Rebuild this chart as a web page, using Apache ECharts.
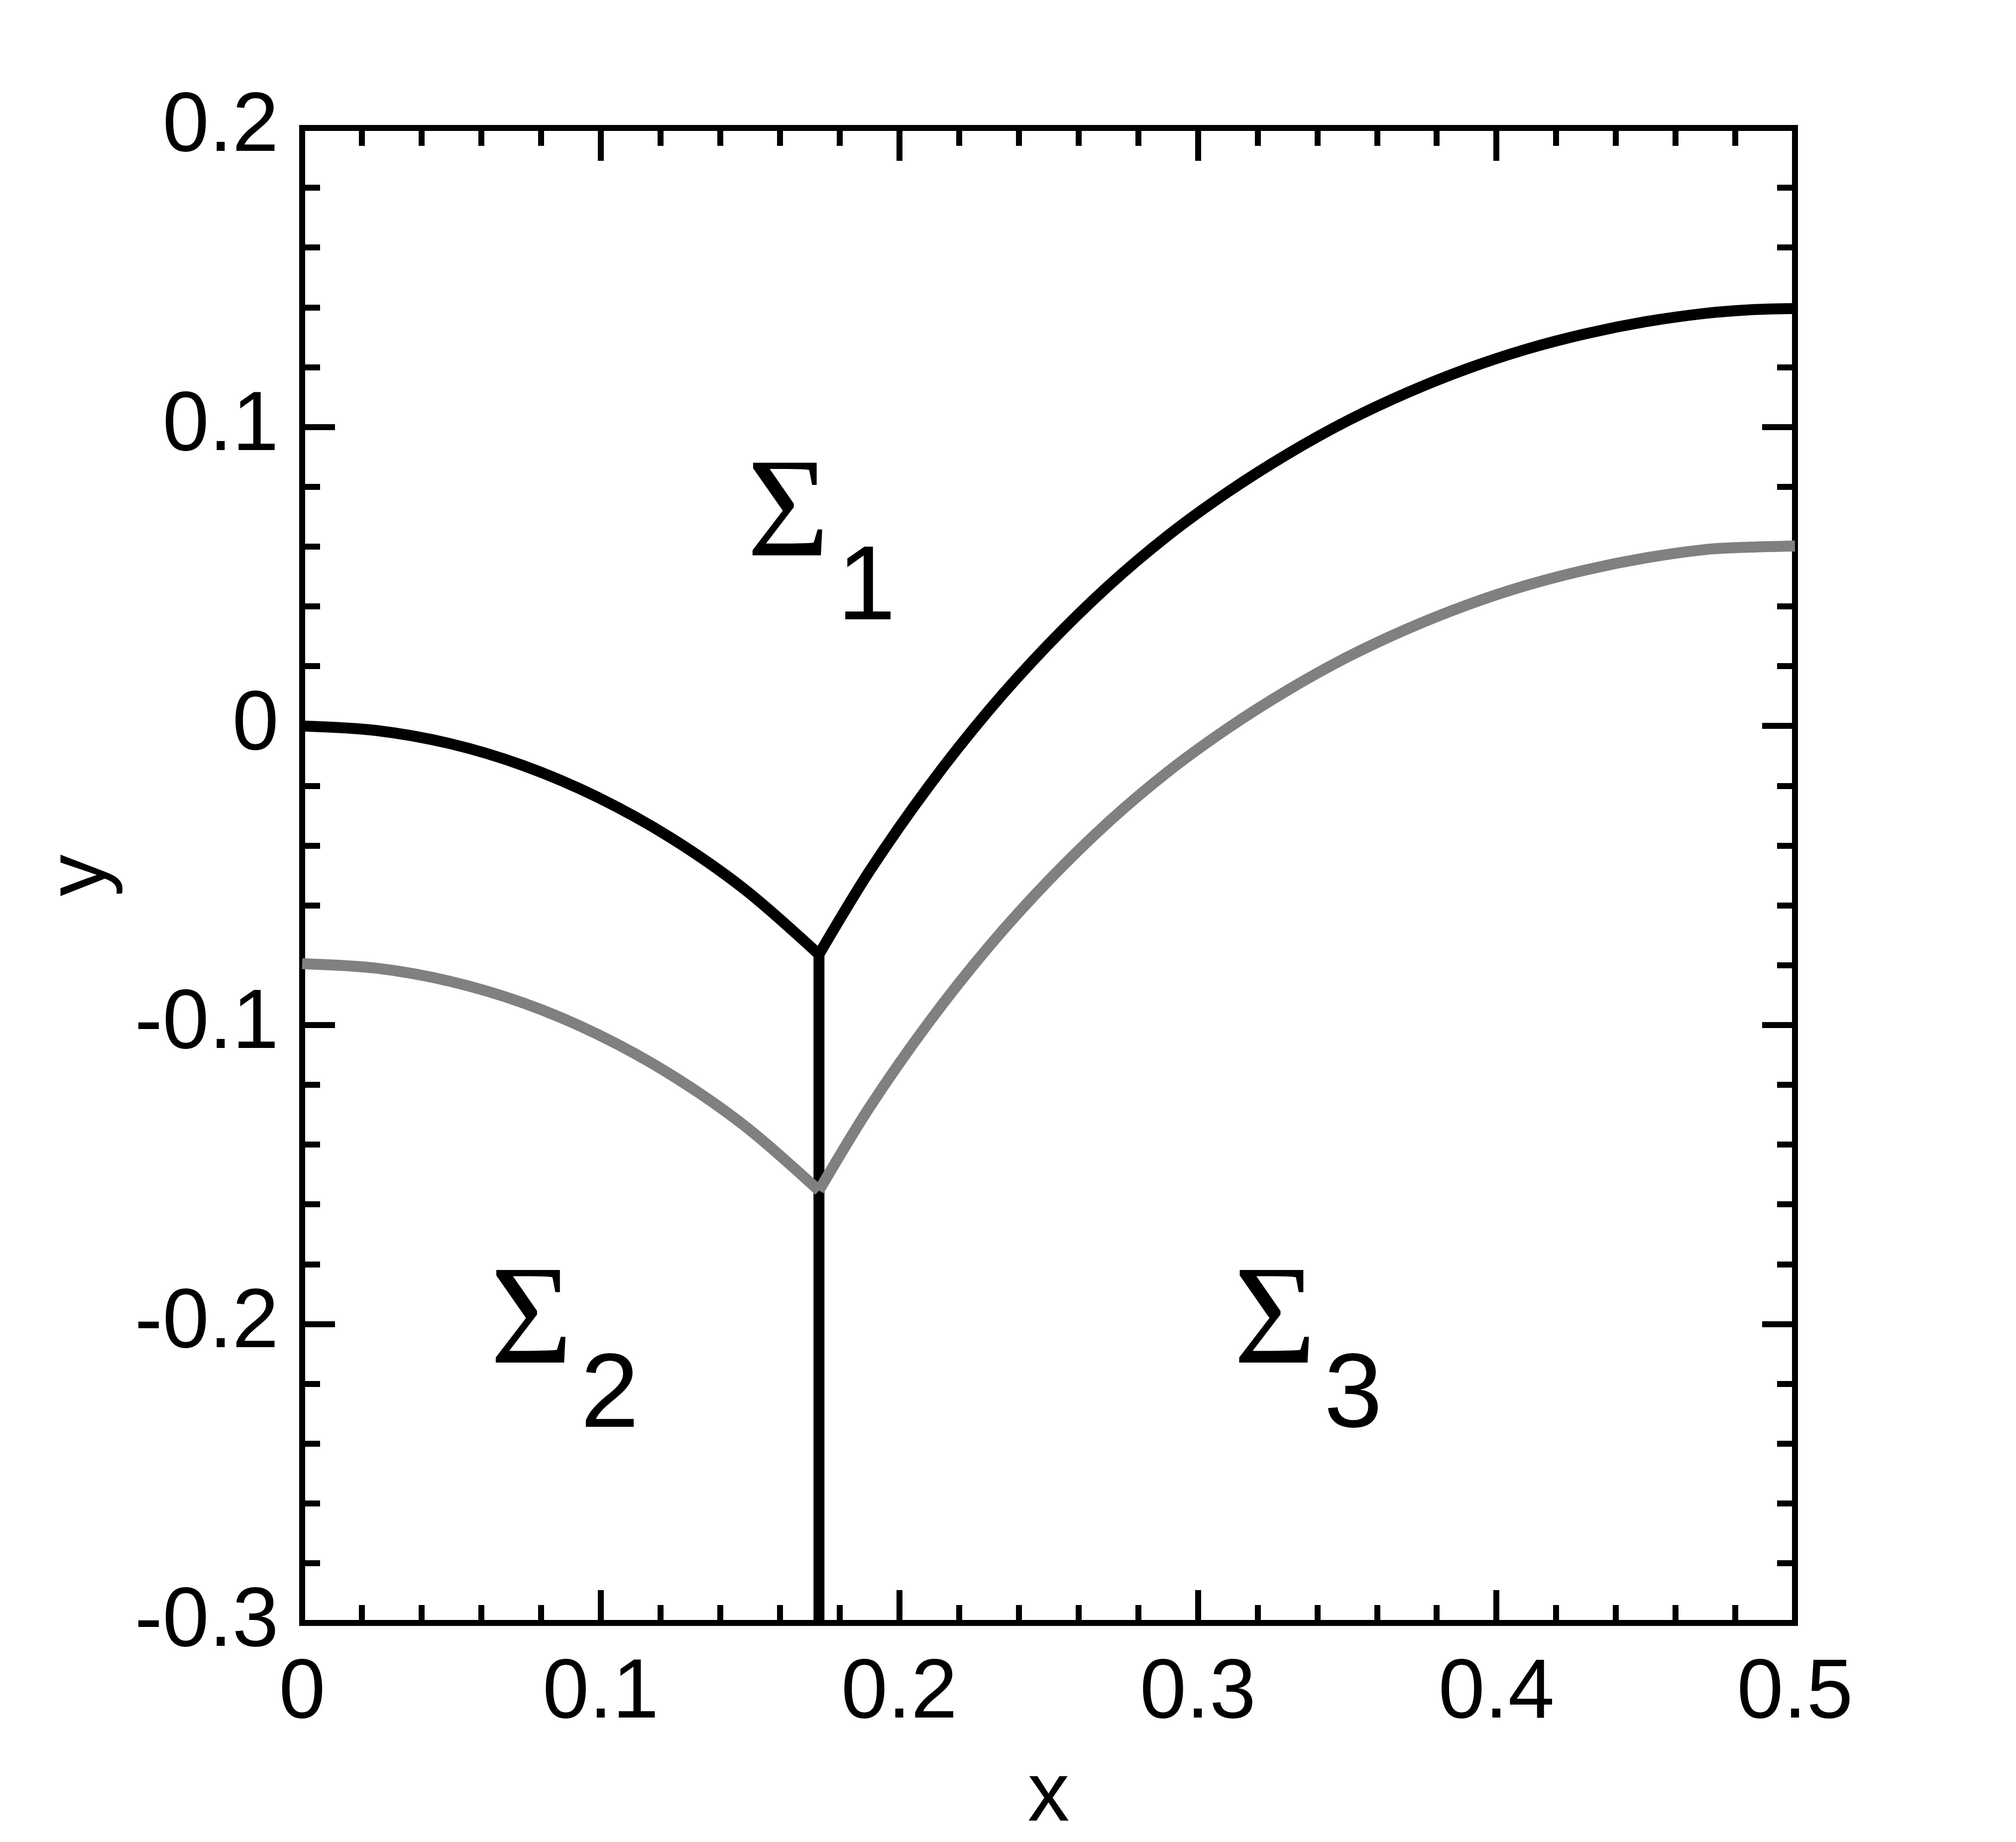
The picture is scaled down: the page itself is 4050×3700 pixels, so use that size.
<!DOCTYPE html>
<html>
<head>
<meta charset="utf-8">
<title>Sigma regions</title>
<script src="https://cdn.jsdelivr.net/npm/echarts@6/dist/echarts.min.js"></script>
<style>
  html, body { margin: 0; padding: 0; background: #fff; }
  #main { width: 4050px; height: 3700px; }
</style>
</head>
<body>
<div id="main"></div>
<script>
// axis ticks
const xTicks = [0, 0.1, 0.2, 0.3, 0.4, 0.5]
const yTicks = [-0.3, -0.2, -0.1, 0, 0.1, 0.2]

// boundary curves, [x, y]
const blackLeft = [
  [0, 0], [0.0247, -0.0015], [0.0495, -0.0059], [0.0742, -0.0133],
  [0.0989, -0.0238], [0.1236, -0.0375], [0.1484, -0.0548], [0.1731, -0.0764]
]
const blackRight = [
  [0.1731, -0.0764], [0.19, -0.0486], [0.21, -0.02], [0.23, 0.0052],
  [0.25, 0.0273], [0.27, 0.0468], [0.29, 0.0637], [0.31, 0.0782],
  [0.33, 0.0909], [0.35, 0.102], [0.37, 0.1114], [0.39, 0.1194],
  [0.41, 0.126], [0.43, 0.1312], [0.45, 0.1352], [0.47, 0.138],
  [0.485, 0.1392], [0.5, 0.1396]
]
const grayLeft = [
  [0, -0.0795], [0.0247, -0.081], [0.0495, -0.0854], [0.0742, -0.0927],
  [0.0989, -0.1031], [0.1236, -0.1167], [0.1484, -0.1339], [0.1731, -0.1554]
]
const grayRight = [
  [0.1731, -0.1554], [0.19, -0.1276], [0.21, -0.099], [0.23, -0.0738],
  [0.25, -0.0517], [0.27, -0.0322], [0.29, -0.0153], [0.31, -0.0008],
  [0.33, 0.0119], [0.35, 0.023], [0.37, 0.0324], [0.39, 0.0404],
  [0.41, 0.047], [0.43, 0.0522], [0.45, 0.0562], [0.47, 0.059],
  [0.485, 0.0598], [0.5, 0.0602]
]
const stem = [[0.1731, -0.0764], [0.1731, -0.3]]

// region labels: subscript, x, y
const regionLabels = [['1', 0.149, 0.057], ['2', 0.063, -0.213], ['3', 0.312, -0.213]]

const sans = 'Liberation Sans'
const ink = '#000'

function valueAxis (extra) {
  return Object.assign({
    type: 'value',
    axisLine: { show: false, onZero: false },
    axisTick: { show: true, inside: true, length: 66, lineStyle: { color: ink, width: 12 } },
    minorTick: { show: true, splitNumber: 5, length: 36, lineStyle: { color: ink, width: 12 } },
    splitLine: { show: false },
    axisLabel: { show: false }
  }, extra)
}

function curve (data, color) {
  return {
    type: 'line',
    data: data,
    smooth: 0.3,
    showSymbol: false,
    symbol: 'none',
    silent: true,
    lineStyle: { color: color, width: 22, cap: 'butt', opacity: 1 }
  }
}

const chart = echarts.init(document.getElementById('main'))
chart.setOption({
  backgroundColor: '#fff',
  animation: false,
  grid: {
    show: true,
    left: 607,
    top: 257,
    right: 444,
    bottom: 432,
    borderColor: ink,
    borderWidth: 12
  },
  xAxis: [
    valueAxis({
      position: 'bottom',
      min: xTicks[0],
      max: xTicks[xTicks.length - 1],
      interval: 0.1,
      name: 'x',
      nameLocation: 'middle',
      nameGap: 267,
      nameTextStyle: { fontFamily: sans, fontSize: 168, color: ink },
      axisLabel: { show: true, margin: 60, fontFamily: sans, fontSize: 168, color: ink }
    }),
    valueAxis({
      position: 'top',
      min: xTicks[0],
      max: xTicks[xTicks.length - 1],
      interval: 0.1
    })
  ],
  yAxis: [
    valueAxis({
      position: 'left',
      min: yTicks[0],
      max: yTicks[yTicks.length - 1],
      interval: 0.1,
      name: 'y',
      nameLocation: 'middle',
      nameRotate: 90,
      nameGap: 358,
      nameTextStyle: { fontFamily: sans, fontSize: 168, color: ink },
      axisLabel: { show: true, margin: 47, fontFamily: sans, fontSize: 168, color: ink }
    }),
    valueAxis({
      position: 'right',
      min: yTicks[0],
      max: yTicks[yTicks.length - 1],
      interval: 0.1
    })
  ],
  series: [
    curve(stem, ink),
    curve(grayLeft, '#808080'),
    curve(grayRight, '#808080'),
    curve(blackLeft, ink),
    curve(blackRight, ink),
    {
      type: 'scatter',
      symbolSize: 0,
      silent: true,
      itemStyle: { opacity: 1 },
      data: regionLabels.map(r => [r[1], r[2], r[0]]),
      label: {
        show: true,
        position: 'right',
        distance: 0,
        color: ink,
        formatter: p => '{s|Σ}{n|' + p.data[2] + '}',
        rich: {
          s: {
            fontFamily: 'Liberation Serif',
            fontSize: 284,
            lineHeight: 300,
            color: ink,
            padding: [0, 0, 150, 0]
          },
          n: {
            fontFamily: sans,
            fontSize: 211,
            lineHeight: 211,
            color: ink,
            padding: [140, 0, 0, 16]
          }
        }
      }
    }
  ]
})
window.onresize = chart.resize
</script>
</body>
</html>
